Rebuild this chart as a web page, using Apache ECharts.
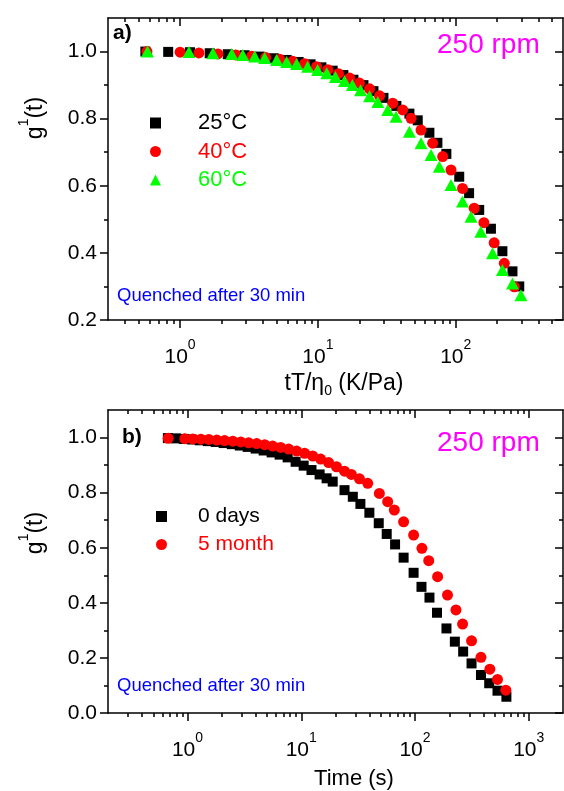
<!DOCTYPE html>
<html><head><meta charset="utf-8">
<script src="https://cdn.jsdelivr.net/npm/echarts@6/dist/echarts.min.js"></script>
<style>html,body{margin:0;padding:0;background:#fff}#c{width:564px;height:791px}</style>
</head><body><div id="c"></div>
<script>
// ---------- data: panel a ----------
const a25x = [0.56,0.82,1.18,1.64,2.22,2.94,3.78,4.78,5.93,7.25,8.85,10.6,12.8,15.3,18.1,21.4,25.3,29.9,37.1,46.1,53.0,64.4,73.6,85.5,106,125,148,180,218,258,289];
const a25y = [1.000,0.999,0.998,0.995,0.992,0.989,0.985,0.980,0.975,0.969,0.962,0.953,0.943,0.930,0.916,0.900,0.882,0.862,0.838,0.815,0.795,0.758,0.728,0.695,0.627,0.578,0.528,0.472,0.405,0.345,0.300];
const a40x = [0.575,1.0,1.37,1.88,2.54,3.31,4.18,5.28,6.56,8.01,9.78,11.8,14.1,17.0,20.0,23.7,28.0,34.9,41.2,47.4,56.0,68.0,80.4,92.4,112,136,160,190,225,266];
const a40y = [1.000,0.998,0.996,0.993,0.990,0.986,0.982,0.977,0.971,0.964,0.955,0.946,0.934,0.921,0.906,0.889,0.868,0.846,0.826,0.801,0.766,0.727,0.687,0.647,0.592,0.533,0.490,0.430,0.369,0.299];
const a60x = [0.58,1.16,1.73,2.37,2.85,3.48,4.11,5.02,5.93,7.01,8.42,9.95,11.6,13.4,15.6,17.8,20.4,23.7,27.2,32.1,36.9,46.1,56.0,66.2,76.0,92.4,112,129,152,185,218,258,297];
const a60y = [1.000,0.999,0.995,0.993,0.990,0.985,0.981,0.975,0.969,0.963,0.955,0.945,0.935,0.924,0.912,0.900,0.885,0.867,0.850,0.826,0.806,0.761,0.727,0.692,0.657,0.602,0.553,0.508,0.463,0.399,0.349,0.309,0.274];
// ---------- data: panel b ----------
const b0x = [0.672,0.79,0.928,1.09,1.28,1.51,1.77,2.08,2.45,2.88,3.38,3.97,4.67,5.49,6.45,7.59,8.92,10.5,12.3,14.5,16.7,18.9,24.0,28.4,33.1,39.7,48.0,56.4,66.8,79.4,97.2,114,134,156,189,224,265,314,380,449,531,636];
const b0y = [0.998,0.997,0.995,0.993,0.990,0.987,0.984,0.980,0.976,0.971,0.966,0.960,0.953,0.946,0.938,0.928,0.912,0.898,0.882,0.866,0.852,0.840,0.809,0.785,0.759,0.727,0.689,0.650,0.612,0.564,0.509,0.458,0.419,0.364,0.307,0.259,0.223,0.180,0.138,0.108,0.081,0.059];
const b5x = [0.676,0.947,1.11,1.31,1.54,1.81,2.12,2.50,2.94,3.45,4.06,4.77,5.60,6.59,7.74,9.10,10.7,12.6,14.8,17.4,20.4,24.0,27.6,32.5,38.4,48.6,57.5,65.8,79.4,97.2,115,132,158,193,229,262,314,380,455,531,629];
const b5y = [0.997,0.996,0.995,0.994,0.993,0.991,0.989,0.987,0.984,0.981,0.978,0.974,0.969,0.964,0.958,0.951,0.943,0.933,0.922,0.909,0.894,0.878,0.866,0.850,0.834,0.797,0.767,0.737,0.694,0.646,0.598,0.553,0.495,0.428,0.374,0.323,0.262,0.202,0.159,0.122,0.083];
// ---------- axes ticks ----------
const aXRange = [0.3, 600];
const bXRange = [0.2, 2000];
const aYRange = [0.2, 1.1];
const bYRange = [0.0, 1.1];
const aXMajor = [1, 10, 100];
const bXMajor = [1, 10, 100, 1000];
const aXMinor = [0.4,0.5,0.6,0.7,0.8,0.9,2,3,4,5,6,7,8,9,20,30,40,50,60,70,80,90,200,300,400,500];
const bXMinor = [0.3,0.4,0.5,0.6,0.7,0.8,0.9,2,3,4,5,6,7,8,9,20,30,40,50,60,70,80,90,200,300,400,500,600,700,800,900];
const aYMajor = [0.2,0.4,0.6,0.8,1.0];
const bYMajor = [0.0,0.2,0.4,0.6,0.8,1.0];
const aYMinor = [0.3,0.5,0.7,0.9];
const bYMinor = [0.1,0.3,0.5,0.7,0.9];

const FONT = '"Liberation Sans", Arial, sans-serif';
const zip = (xs, ys) => xs.map((x, i) => [x, ys[i]]);
const L = Math.log10;

const gridsPx = [{left:108, top:18, width:455, height:302}, {left:108, top:410, width:455, height:303}];

const xAxes = [], yAxes = [];
function addGridAxes(gi, xr, yr, xMaj, xMin, yMaj, yMin) {
  const base = {gridIndex: gi, splitLine:{show:false}, axisPointer:{show:false}};
  const line = {show:true, onZero:false, lineStyle:{color:'#000', width:1.5}};
  const noLine = {show:false, onZero:false};
  const tickStyle = {color:'#000', width:1.5};
  const lmin = L(xr[0]), lmax = L(xr[1]);
  xAxes.push(Object.assign({}, base, {type:'log', logBase:10, min:xr[0], max:xr[1], show:false, axisLine:noLine}));
  const dataX = xAxes.length - 1;
  xAxes.push(Object.assign({}, base, {type:'value', position:'bottom', min:lmin, max:lmax,
    axisLine: line, axisTick:{show:true, length:8, lineStyle:tickStyle, customValues: xMaj.map(L)},
    axisLabel:{show:true, margin:18, customValues: xMaj.map(L), color:'#000',
      formatter: v => '{b|10}{s|' + Math.round(v) + '}',
      rich:{b:{fontSize:21, fontFamily:FONT, color:'#000', lineHeight:30, verticalAlign:'bottom'},
            s:{fontSize:14, fontFamily:FONT, color:'#000', lineHeight:16, verticalAlign:'top'}}}}));
  xAxes.push(Object.assign({}, base, {type:'value', position:'bottom', min:lmin, max:lmax,
    axisLine: noLine, axisTick:{show:true, length:4, lineStyle:tickStyle, customValues: xMin.map(L)},
    axisLabel:{show:false}}));
  xAxes.push(Object.assign({}, base, {type:'value', position:'top', min:lmin, max:lmax,
    axisLine: line, axisTick:{show:true, inside:true, length:8, lineStyle:tickStyle, customValues: xMaj.map(L)},
    axisLabel:{show:false}}));
  xAxes.push(Object.assign({}, base, {type:'value', position:'top', min:lmin, max:lmax,
    axisLine: noLine, axisTick:{show:true, inside:true, length:4, lineStyle:tickStyle, customValues: xMin.map(L)},
    axisLabel:{show:false}}));
  yAxes.push(Object.assign({}, base, {type:'value', position:'left', min:yr[0], max:yr[1],
    axisLine: line, axisTick:{show:true, length:8, lineStyle:tickStyle, customValues: yMaj},
    axisLabel:{show:true, margin:11, customValues: yMaj, color:'#000', fontSize:21, fontFamily:FONT,
      formatter: v => v.toFixed(1)}}));
  const dataY = yAxes.length - 1;
  yAxes.push(Object.assign({}, base, {type:'value', position:'left', min:yr[0], max:yr[1],
    axisLine: noLine, axisTick:{show:true, length:4, lineStyle:tickStyle, customValues: yMin},
    axisLabel:{show:false}}));
  yAxes.push(Object.assign({}, base, {type:'value', position:'right', min:yr[0], max:yr[1],
    axisLine: line, axisTick:{show:true, inside:true, length:8, lineStyle:tickStyle, customValues: yMaj},
    axisLabel:{show:false}}));
  yAxes.push(Object.assign({}, base, {type:'value', position:'right', min:yr[0], max:yr[1],
    axisLine: noLine, axisTick:{show:true, inside:true, length:4, lineStyle:tickStyle, customValues: yMin},
    axisLabel:{show:false}}));
  return {dataX, dataY};
}
const ga = addGridAxes(0, aXRange, aYRange, aXMajor, aXMinor, aYMajor, aYMinor);
const gb = addGridAxes(1, bXRange, bYRange, bXMajor, bXMinor, bYMajor, bYMinor);

function sc(name, data, g, symbol, size, color, z) {
  return {type:'scatter', name, data, xAxisIndex:g.dataX, yAxisIndex:g.dataY, symbol, symbolSize:size,
    itemStyle:{color, opacity:1}, z, silent:true, animation:false};
}

const legBase = {orient:'vertical', itemWidth:11, itemHeight:11, selectedMode:false};
const txt = (text, x, y, font, fill, align) => ({type:'text', x, y,
  style:{text, font, fill, align: align || 'left', verticalAlign:'middle'}});
const gTitle = (x, y) => ({type:'text', x, y, rotation:Math.PI/2,
  style:{text:'{n|g}{s|1}{n|(t)}', align:'center', verticalAlign:'middle',
    rich:{n:{fontSize:23, fontFamily:FONT, fill:'#000', lineHeight:30, verticalAlign:'bottom'},
          s:{fontSize:14, fontFamily:FONT, fill:'#000', lineHeight:15, verticalAlign:'top'}}}});

const chart = echarts.init(document.getElementById('c'), null, {renderer:'canvas'});
chart.setOption({
  animation:false,
  backgroundColor:'#fff',
  grid: gridsPx.map(g => Object.assign({containLabel:false, outerBoundsMode:'none'}, g)),
  xAxis: xAxes,
  yAxis: yAxes,
  legend: [
    Object.assign({}, legBase, {left:145, top:107, itemGap:6.5,
      textStyle:{fontSize:22, fontFamily:FONT, lineHeight:20, padding:[0,0,0,32]},
      data:[{name:'25°C', icon:'rect', textStyle:{color:'#000'}},
            {name:'40°C', icon:'circle', textStyle:{color:'#ff0000'}},
            {name:'60°C', icon:'triangle', textStyle:{color:'#00ff00'}}]}),
    Object.assign({}, legBase, {left:151, top:501, itemGap:7,
      textStyle:{fontSize:21, fontFamily:FONT, lineHeight:20, padding:[0,0,0,26]},
      data:[{name:'0 days', icon:'rect', textStyle:{color:'#000'}},
            {name:'5 month', icon:'circle', textStyle:{color:'#ff0000'}}]})
  ],
  series: [
    sc('25°C', zip(a25x, a25y), ga, 'rect', 10, '#000000', 2),
    sc('40°C', zip(a40x, a40y), ga, 'circle', 11, '#ff0000', 3),
    sc('60°C', zip(a60x, a60y), ga, 'triangle', [13, 12], '#00ff00', 4),
    sc('0 days', zip(b0x, b0y), gb, 'rect', 10, '#000000', 2),
    sc('5 month', zip(b5x, b5y), gb, 'circle', 11, '#ff0000', 3)
  ],
  graphic: [
    txt('a)', 113, 33, 'bold 21px ' + FONT, '#000'),
    txt('b)', 122, 437, 'bold 21px ' + FONT, '#000'),
    txt('250 rpm', 437, 45, '28px ' + FONT, '#ff00ff'),
    txt('250 rpm', 437, 443, '28px ' + FONT, '#ff00ff'),
    txt('Quenched after 30 min', 117, 296, '18.5px ' + FONT, '#0000ff'),
    txt('Quenched after 30 min', 117, 686, '18.5px ' + FONT, '#0000ff'),
    gTitle(32, 118),
    gTitle(32, 533),
    {type:'text', x:344, y:385,
      style:{text:'{n|tT/η}{s|0}{n| (K/Pa)}', align:'center', verticalAlign:'middle',
        rich:{n:{fontSize:23, fontFamily:FONT, fill:'#000', lineHeight:26, verticalAlign:'top'},
              s:{fontSize:14, fontFamily:FONT, fill:'#000', lineHeight:14, verticalAlign:'bottom'}}}},
    txt('Time (s)', 354, 779, '22px ' + FONT, '#000', 'center')
  ]
});
</script></body></html>
